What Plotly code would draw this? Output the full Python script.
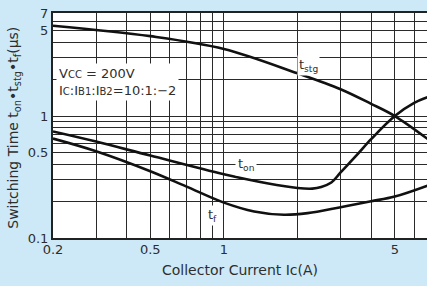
import plotly.graph_objects as go
import math

# Data
tstg_ic = [0.2, 0.5, 1.0, 2.0, 3.0, 4.0, 5.0, 6.83]
tstg_t = [5.51, 4.52, 3.55, 2.24, 1.66, 1.26, 1.0, 0.646]

ton_ic = [0.2, 0.3, 0.5, 1.0, 1.5, 2.0, 2.3, 2.5, 2.75, 3.0, 3.5, 4.0, 5.0, 6.0, 6.83]
ton_t = [0.748, 0.618, 0.474, 0.333, 0.281, 0.257, 0.254, 0.262, 0.285, 0.345, 0.48, 0.646, 1.0, 1.28, 1.43]

tf_ic = [0.2, 0.3, 0.5, 0.7, 1.0, 1.33, 1.76, 2.2, 3.0, 4.0, 5.0, 6.8]
tf_t = [0.654, 0.515, 0.353, 0.265, 0.195, 0.165, 0.155, 0.160, 0.179, 0.200, 0.219, 0.269]

x_grid = [0.2, 0.3, 0.4, 0.5, 0.6, 0.7, 0.8, 0.9, 1, 2, 3, 4, 5, 6]
x_labels = ["0.2", "", "", "0.5", "", "", "", "", "1", "", "", "", "5", ""]
y_grid = [0.1, 0.2, 0.3, 0.4, 0.5, 0.6, 0.7, 0.8, 0.9, 1, 2, 3, 4, 5, 6, 7]
y_labels = ["0.1", "", "", "", "0.5", "", "", "", "", "1", "", "", "", "5", "", "7"]

FONT = "DejaVu Sans, Arial"
TXT = "#2e2e2e"

fig = go.Figure()
for xs, ys in [(tstg_ic, tstg_t), (ton_ic, ton_t), (tf_ic, tf_t)]:
    fig.add_trace(go.Scatter(x=xs, y=ys, mode="lines",
                             line=dict(color="#111111", width=2.6, shape="spline", smoothing=1.0),
                             showlegend=False, hoverinfo="skip"))

small = "<span style='font-size:10px'>{}</span>"
ann_font = dict(family=FONT, size=13, color=TXT)
fig.add_annotation(x=math.log10(0.206), y=math.log10(1.9), xref="x", yref="y",
                   text="V" + small.format("CC") + " = 200V<br>I" + small.format("C") + ":I" + small.format("B1")
                        + ":I" + small.format("B2") + "=10:1:\u22122",
                   showarrow=False, xanchor="left", yanchor="middle", align="left",
                   bgcolor="white", font=ann_font, borderpad=2)
lab_font = dict(family=FONT, size=13, color=TXT)
fig.add_annotation(x=math.log10(2.22), y=math.log10(2.59), text="t<sub>stg</sub>", showarrow=False,
                   bgcolor="white", font=lab_font, borderpad=1)
fig.add_annotation(x=math.log10(1.23), y=math.log10(0.4), text="t<sub>on</sub>", showarrow=False,
                   bgcolor="white", font=lab_font, borderpad=2)
fig.add_annotation(x=math.log10(0.895), y=math.log10(0.152), text="t<sub>f</sub>", showarrow=False,
                   bgcolor="white", font=lab_font, borderpad=1)

# axis titles
fig.add_annotation(x=0.5, y=0, xref="paper", yref="paper", yshift=-32, xanchor="center", yanchor="middle",
                   text="Collector Current Ic(A)", showarrow=False, font=dict(family=FONT, size=14, color=TXT))
fig.add_annotation(x=0, y=0.49, xref="paper", yref="paper", xshift=-39, xanchor="center", yanchor="middle",
                   textangle=-90,
                   text="Switching Time t<sub>on</sub>\u2022t<sub>stg</sub>\u2022t<sub>f</sub>(\u03bcs)",
                   showarrow=False, font=dict(family=FONT, size=14, color=TXT))

tick_font = dict(family=FONT, size=13, color=TXT)
fig.update_xaxes(type="log", range=[math.log10(0.2), math.log10(6.77)], automargin=False,
                 tickvals=x_grid, ticktext=x_labels, tickfont=tick_font,
                 showgrid=True, gridcolor="#2a2a2a", gridwidth=1.2,
                 showline=True, linecolor="#222222", linewidth=2, mirror=True,
                 ticks="", zeroline=False, ticklabelstandoff=-2)
fig.update_yaxes(type="log", range=[math.log10(0.1), math.log10(7)], automargin=False,
                 tickvals=y_grid, ticktext=y_labels, tickfont=tick_font,
                 showgrid=True, gridcolor="#2a2a2a", gridwidth=1.2,
                 showline=True, linecolor="#222222", linewidth=2,
                 ticks="", zeroline=False)
fig.update_layout(width=427, height=286, margin=dict(l=53, r=0, t=13, b=48),
                  paper_bgcolor="#cde9f7", plot_bgcolor="white")
fig.write_html("out.html", config={"displayModeBar": False},
               post_script="document.body.style.margin='0';document.body.style.overflow='hidden';"
                           "document.body.style.background='#cde9f7';")
